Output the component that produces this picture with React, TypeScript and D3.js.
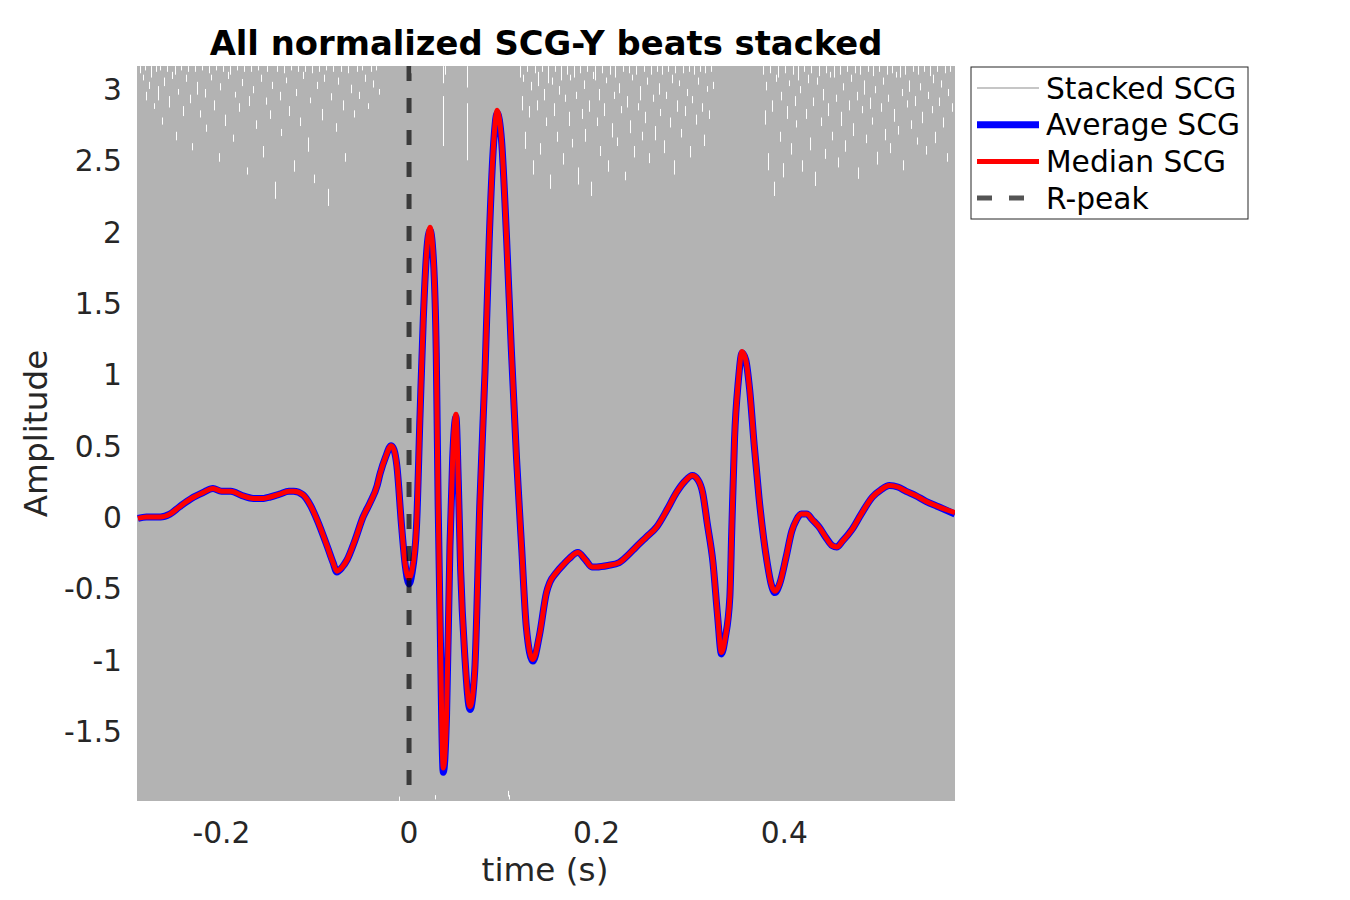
import React from "react";
import { scaleLinear, line, area, curveMonotoneX, curveLinear } from "d3";

// time axis (s) shared by the average and median beats
const beatTime = [
  -0.289, -0.28, -0.265, -0.255, -0.245, -0.232, -0.22, -0.209, -0.2, -0.19,
  -0.178, -0.166, -0.155, -0.148, -0.138, -0.128, -0.123, -0.113, -0.105, -0.098,
  -0.087, -0.081, -0.077, -0.071, -0.066, -0.058, -0.049, -0.0415, -0.034, -0.031,
  -0.025, -0.019, -0.016, -0.013, -0.008, -0.004, 0.0, 0.003, 0.008, 0.0117,
  0.0152, 0.0188, 0.0223, 0.026, 0.029, 0.031, 0.033, 0.0365, 0.04, 0.0436,
  0.0465, 0.05, 0.0525, 0.055, 0.0596, 0.065, 0.07, 0.0755, 0.081, 0.0855,
  0.0897, 0.094, 0.0986, 0.104, 0.109, 0.1146, 0.12, 0.125, 0.132, 0.139,
  0.1465, 0.15, 0.157, 0.165, 0.171, 0.18, 0.188, 0.195, 0.2, 0.212,
  0.224, 0.233, 0.242, 0.253, 0.264, 0.275, 0.285, 0.294, 0.302, 0.308,
  0.313, 0.318, 0.324, 0.329, 0.333, 0.337, 0.342, 0.344, 0.347, 0.351,
  0.355, 0.359, 0.363, 0.368, 0.373, 0.382, 0.386, 0.39, 0.395, 0.402,
  0.408, 0.413, 0.418, 0.424, 0.43, 0.437, 0.445, 0.451, 0.456, 0.462,
  0.472, 0.482, 0.494, 0.503, 0.512, 0.521, 0.53, 0.54, 0.551, 0.565,
  0.582,
];

const averageSCG = [
  -0.01, 0.0, 0.0, 0.02, 0.07, 0.13, 0.17, 0.2, 0.18, 0.18,
  0.15, 0.13, 0.13, 0.14, 0.16, 0.18, 0.18, 0.155, 0.08, -0.02,
  -0.21, -0.32, -0.385, -0.35, -0.3, -0.17, 0.0, 0.1, 0.22, 0.3,
  0.42, 0.5, 0.47, 0.36, -0.06, -0.34, -0.47, -0.4, -0.06, 0.71,
  1.39, 1.86, 2.01, 1.8, 1.15, 0.1, -0.68, -1.79, -1.39, -0.21,
  0.41, 0.7, 0.25, -0.37, -0.99, -1.35, -1.08, 0.1, 1.02, 1.95,
  2.57, 2.83, 2.64, 1.95, 1.18, 0.41, -0.21, -0.77, -1.01, -0.83,
  -0.53, -0.46, -0.39, -0.33, -0.29, -0.25, -0.3, -0.35, -0.35, -0.34,
  -0.32, -0.27, -0.21, -0.14, -0.07, 0.05, 0.17, 0.25, 0.29, 0.26,
  0.17, -0.05, -0.32, -0.7, -0.96, -0.85, -0.56, -0.1, 0.55, 0.95,
  1.15, 1.1, 0.9, 0.5, 0.14, -0.33, -0.47, -0.53, -0.47, -0.28,
  -0.1, -0.02, 0.02, 0.02, -0.02, -0.07, -0.15, -0.2, -0.21, -0.17,
  -0.09, 0.02, 0.14, 0.19, 0.22, 0.21, 0.18, 0.15, 0.11, 0.07,
  0.02,
];

const medianSCG = [
  -0.01, 0.0, 0.0, 0.02, 0.07, 0.13, 0.17, 0.2, 0.18, 0.18,
  0.15, 0.13, 0.13, 0.14, 0.16, 0.18, 0.18, 0.155, 0.08, -0.02,
  -0.21, -0.32, -0.38, -0.35, -0.3, -0.17, 0.0, 0.1, 0.22, 0.3,
  0.42, 0.5, 0.47, 0.36, -0.06, -0.34, -0.43, -0.38, -0.06, 0.71,
  1.39, 1.86, 2.03, 1.8, 1.15, 0.1, -0.68, -1.76, -1.39, -0.21,
  0.41, 0.72, 0.25, -0.37, -0.99, -1.33, -1.08, 0.1, 1.02, 1.95,
  2.57, 2.85, 2.64, 1.95, 1.18, 0.41, -0.21, -0.77, -1.0, -0.83,
  -0.53, -0.46, -0.39, -0.33, -0.29, -0.25, -0.3, -0.35, -0.35, -0.34,
  -0.32, -0.27, -0.21, -0.14, -0.07, 0.05, 0.17, 0.25, 0.29, 0.26,
  0.17, -0.05, -0.32, -0.7, -0.95, -0.85, -0.56, -0.1, 0.55, 0.95,
  1.16, 1.1, 0.9, 0.5, 0.14, -0.33, -0.47, -0.52, -0.47, -0.28,
  -0.1, -0.02, 0.02, 0.02, -0.02, -0.07, -0.15, -0.2, -0.21, -0.17,
  -0.09, 0.02, 0.14, 0.19, 0.22, 0.21, 0.18, 0.15, 0.11, 0.07,
  0.03,
];

// envelope of all stacked beats (reaches past the axes everywhere)
const stackTime = [-0.29, -0.1, 0, 0.05, 0.1, 0.2, 0.3, 0.4, 0.582];
const stackMax = [3.9, 3.7, 4.1, 4.8, 5.6, 4.2, 3.8, 4.4, 3.6];
const stackMin = [-2.6, -2.8, -3.5, -4.6, -3.9, -2.9, -3.3, -2.7, -2.5];

// gaps between the stacked traces: [time ms, top, length]
const stackGaps: [number, number, number][] = [
  [-287, 3.16, 0.05], [-284, 3.1, 0.04], [-281, 3.16, 0.03], [-280, 2.98, 0.06], [-277, 3.05, 0.05],
  [-275, 3.16, 0.08], [-272, 2.9, 0.04], [-270, 3.16, 0.04], [-268, 3.02, 0.1], [-265, 3.16, 0.03],
  [-263, 2.8, 0.05], [-261, 3.08, 0.06], [-258, 3.16, 0.04], [-256, 2.95, 0.08], [-253, 3.12, 0.05],
  [-250, 3.16, 0.06], [-248, 2.7, 0.06], [-246, 3.0, 0.04], [-243, 3.16, 0.03], [-241, 2.88, 0.07],
  [-238, 3.1, 0.05], [-236, 3.16, 0.04], [-233, 2.96, 0.06], [-231, 2.62, 0.05], [-228, 3.16, 0.04],
  [-226, 3.05, 0.09], [-223, 2.85, 0.05], [-221, 3.16, 0.03], [-218, 3.0, 0.06], [-216, 2.75, 0.05],
  [-213, 3.16, 0.05], [-211, 3.1, 0.04], [-208, 2.92, 0.07], [-206, 3.16, 0.03], [-203, 2.55, 0.06],
  [-201, 3.04, 0.05], [-198, 3.16, 0.04], [-196, 2.82, 0.08], [-193, 3.12, 0.05], [-191, 3.16, 0.06],
  [-188, 2.68, 0.05], [-186, 2.98, 0.04], [-183, 3.16, 0.03], [-181, 2.9, 0.06], [-178, 3.07, 0.05],
  [-176, 3.16, 0.04], [-173, 2.45, 0.05], [-171, 2.95, 0.07], [-168, 3.16, 0.04], [-166, 3.02, 0.05],
  [-163, 2.78, 0.06], [-161, 3.16, 0.03], [-158, 3.1, 0.05], [-156, 2.6, 0.08], [-153, 2.94, 0.05],
  [-151, 3.16, 0.04], [-148, 2.85, 0.06], [-146, 3.05, 0.05], [-143, 2.35, 0.12], [-141, 3.16, 0.04],
  [-138, 2.98, 0.06], [-136, 2.72, 0.05], [-133, 3.16, 0.05], [-131, 3.08, 0.04], [-128, 2.88, 0.07],
  [-126, 3.16, 0.03], [-123, 2.5, 0.08], [-121, 3.0, 0.05], [-118, 3.16, 0.04], [-116, 2.8, 0.06],
  [-113, 3.12, 0.05], [-111, 3.16, 0.04], [-108, 2.66, 0.1], [-106, 2.94, 0.04], [-103, 3.16, 0.05],
  [-101, 2.4, 0.06], [-98, 3.05, 0.05], [-96, 3.16, 0.04], [-93, 2.86, 0.08], [-91, 3.1, 0.05],
  [-88, 3.16, 0.03], [-86, 2.3, 0.12], [-83, 2.97, 0.05], [-81, 3.16, 0.04], [-78, 2.76, 0.06],
  [-76, 3.08, 0.05], [-73, 3.16, 0.04], [-70, 2.92, 0.07], [-68, 2.55, 0.06], [-65, 3.16, 0.05],
  [-62, 3.03, 0.06], [-59, 2.85, 0.05], [-56, 3.16, 0.04], [-53, 2.98, 0.05], [-50, 3.16, 0.03],
  [-47, 3.1, 0.05], [-44, 2.9, 0.04], [-41, 3.16, 0.04], [-38, 3.06, 0.05], [-35, 3.16, 0.03],
  [-32, 3.0, 0.04],
  [2, 3.16, 0.05], [36, 3.16, 0.12], [36, 2.95, 0.35], [38, 3.16, 0.06], [62, 3.16, 0.15], [62, 2.9, 0.4],
  [118, 3.16, 0.08], [120, 2.95, 0.1], [122, 3.1, 0.05], [124, 2.7, 0.12], [126, 3.16, 0.04],
  [128, 2.88, 0.08], [130, 3.05, 0.06], [132, 2.5, 0.1], [134, 3.16, 0.05], [136, 2.92, 0.07],
  [138, 3.12, 0.1], [140, 2.62, 0.08], [142, 3.16, 0.04], [144, 3.0, 0.08], [146, 2.8, 0.06],
  [148, 3.16, 0.12], [150, 2.4, 0.1], [152, 3.08, 0.05], [154, 2.9, 0.09], [156, 3.16, 0.04],
  [158, 2.7, 0.07], [160, 3.02, 0.06], [162, 3.16, 0.1], [164, 2.55, 0.08], [166, 2.96, 0.05],
  [168, 3.16, 0.06], [170, 2.84, 0.1], [172, 3.1, 0.04], [174, 2.65, 0.06], [176, 3.16, 0.08],
  [178, 2.98, 0.05], [180, 2.45, 0.12], [182, 3.16, 0.05], [184, 2.86, 0.07], [186, 3.06, 0.06],
  [188, 2.72, 0.09], [190, 3.16, 0.04], [192, 2.92, 0.08], [194, 2.35, 0.1], [196, 3.12, 0.05],
  [198, 3.16, 0.1], [200, 2.8, 0.06], [202, 3.0, 0.08], [204, 2.6, 0.07], [206, 3.16, 0.05],
  [208, 2.9, 0.09], [210, 3.08, 0.04], [212, 2.5, 0.08], [214, 3.16, 0.06], [216, 2.76, 0.1],
  [218, 2.98, 0.05], [220, 3.16, 0.08], [222, 2.66, 0.06], [224, 3.04, 0.07], [226, 2.88, 0.05],
  [228, 3.16, 0.04], [230, 2.42, 0.06], [232, 2.95, 0.08], [234, 3.16, 0.05], [236, 2.78, 0.09],
  [238, 3.1, 0.04], [240, 2.6, 0.08], [242, 3.16, 0.06], [244, 2.9, 0.05], [246, 3.02, 0.1],
  [248, 2.7, 0.06], [250, 3.16, 0.04], [252, 2.84, 0.08], [254, 3.08, 0.05], [256, 2.55, 0.07],
  [258, 3.16, 0.06], [260, 2.96, 0.05], [262, 2.74, 0.1], [264, 3.16, 0.04], [266, 3.04, 0.08],
  [268, 2.86, 0.05], [270, 3.16, 0.06], [272, 2.64, 0.09], [274, 2.98, 0.05], [276, 3.16, 0.04],
  [278, 2.8, 0.07], [280, 3.1, 0.06], [282, 2.5, 0.1], [284, 3.16, 0.05], [286, 2.92, 0.08],
  [288, 3.06, 0.04], [290, 2.72, 0.06], [292, 3.16, 0.05], [294, 2.88, 0.07], [296, 3.0, 0.05],
  [298, 3.16, 0.04], [300, 2.6, 0.08], [302, 2.95, 0.05], [304, 3.16, 0.06], [306, 2.82, 0.07],
  [308, 3.08, 0.05], [310, 3.16, 0.04], [312, 2.9, 0.06], [314, 2.68, 0.08], [316, 3.16, 0.05],
  [318, 3.02, 0.04], [320, 2.85, 0.06], [322, 3.16, 0.04], [324, 3.05, 0.05],
  [377, 3.16, 0.06], [379, 2.85, 0.1], [381, 3.05, 0.06], [383, 2.55, 0.12], [385, 3.16, 0.05],
  [387, 2.92, 0.08], [389, 2.35, 0.1], [391, 3.1, 0.05], [393, 3.16, 0.08], [395, 2.7, 0.07],
  [397, 2.98, 0.06], [399, 2.48, 0.1], [401, 3.16, 0.05], [403, 2.88, 0.09], [405, 3.06, 0.04],
  [407, 2.62, 0.08], [409, 3.16, 0.06], [411, 2.95, 0.07], [413, 2.78, 0.05], [415, 3.16, 0.1],
  [417, 3.02, 0.05], [419, 2.5, 0.08], [421, 3.16, 0.04], [423, 2.86, 0.07], [425, 3.1, 0.06],
  [427, 2.66, 0.09], [429, 3.16, 0.05], [431, 2.94, 0.06], [433, 2.42, 0.1], [435, 3.08, 0.05],
  [437, 3.16, 0.07], [439, 2.8, 0.06], [441, 3.0, 0.08], [443, 2.58, 0.07], [445, 3.16, 0.05],
  [447, 2.9, 0.09], [449, 3.12, 0.04], [451, 2.7, 0.06], [453, 3.16, 0.08], [455, 2.96, 0.05],
  [457, 2.52, 0.07], [459, 3.16, 0.06], [461, 2.84, 0.1], [463, 3.04, 0.05], [465, 2.64, 0.08],
  [467, 3.16, 0.04], [469, 2.92, 0.07], [471, 3.1, 0.05], [473, 2.76, 0.09], [475, 3.16, 0.05],
  [477, 2.98, 0.06], [479, 2.45, 0.08], [481, 3.16, 0.06], [483, 2.88, 0.05], [485, 3.06, 0.1],
  [487, 2.68, 0.06], [489, 3.16, 0.04], [491, 2.94, 0.08], [493, 2.8, 0.05], [495, 3.16, 0.07],
  [497, 3.02, 0.05], [499, 2.56, 0.09], [501, 3.16, 0.04], [503, 2.9, 0.06], [505, 3.08, 0.05],
  [507, 2.72, 0.08], [509, 3.16, 0.06], [511, 2.96, 0.05], [513, 2.62, 0.07], [515, 3.16, 0.05],
  [517, 2.86, 0.09], [519, 3.12, 0.04], [521, 2.74, 0.06], [523, 3.16, 0.08], [525, 3.0, 0.05],
  [527, 2.5, 0.07], [529, 3.16, 0.06], [531, 2.92, 0.05], [533, 3.06, 0.08], [535, 2.78, 0.06],
  [537, 3.16, 0.04], [539, 2.95, 0.07], [541, 2.66, 0.05], [543, 3.16, 0.06], [545, 3.04, 0.05],
  [547, 2.84, 0.08], [549, 3.16, 0.04], [551, 2.6, 0.06], [553, 2.98, 0.05], [555, 3.16, 0.07],
  [557, 2.88, 0.05], [559, 3.1, 0.06], [561, 2.7, 0.08], [563, 3.16, 0.04], [565, 2.94, 0.06],
  [567, 3.06, 0.05], [569, 2.8, 0.07], [571, 3.16, 0.05], [573, 2.55, 0.06], [575, 3.0, 0.05],
  [577, 3.16, 0.04], [579, 2.9, 0.06],
  [-11, -1.96, 0.03], [28, -1.95, 0.03], [105, -1.92, 0.04], [107, -1.95, 0.03],
];

const xTicks = [-0.2, 0, 0.2, 0.4];
const yTicks = [-1.5, -1, -0.5, 0, 0.5, 1, 1.5, 2, 2.5, 3];
const legendItems = ["Stacked SCG", "Average SCG", "Median SCG", "R-peak"];

const W = 1350;
const H = 900;
const box = { left: 137, right: 955, top: 66, bottom: 801 };
const font = "'DejaVu Sans', sans-serif";
const tickColor = "#262626";

export default function App() {
  const x = scaleLinear().domain([-0.29, 0.582]).range([box.left, box.right]);
  const y = scaleLinear().domain([-1.991, 3.161]).range([box.bottom, box.top]);

  const beatLine = line<number>()
    .x((_, i) => x(beatTime[i]))
    .y((d) => y(d))
    .curve(curveMonotoneX);

  const stackArea = area<number>()
    .x((d) => x(d))
    .y0((_, i) => y(stackMin[i]))
    .y1((_, i) => y(stackMax[i]))
    .curve(curveLinear);

  const fmt = (v: number) => String(v);

  return (
    <svg
      width={W}
      height={H}
      style={{ position: "absolute", left: 0, top: 0, background: "#fff" }}
      fontFamily={font}
    >
      <defs>
        <clipPath id="plotClip">
          <rect
            x={box.left}
            y={box.top}
            width={box.right - box.left}
            height={box.bottom - box.top}
          />
        </clipPath>
      </defs>

      {/* ticks, under the data like MATLAB's default layer */}
      <g stroke={tickColor} strokeWidth={1}>
        {xTicks.map((t) => (
          <g key={"xt" + t}>
            <line x1={x(t)} x2={x(t)} y1={box.bottom} y2={box.bottom - 8} />
            <line x1={x(t)} x2={x(t)} y1={box.top} y2={box.top + 8} />
          </g>
        ))}
        {yTicks.map((t) => (
          <g key={"yt" + t}>
            <line x1={box.left} x2={box.left + 8} y1={y(t)} y2={y(t)} />
            <line x1={box.right} x2={box.right - 8} y1={y(t)} y2={y(t)} />
          </g>
        ))}
      </g>

      <g clipPath="url(#plotClip)">
        <path d={stackArea(stackTime) ?? ""} fill="#b3b3b3" />
        <g stroke="#ffffff" strokeWidth={1}>
          {stackGaps.map(([ms, top, len], i) => (
            <line
              key={"g" + i}
              x1={Math.round(x(ms / 1000)) + 0.5}
              x2={Math.round(x(ms / 1000)) + 0.5}
              y1={y(top)}
              y2={y(top - len)}
            />
          ))}
        </g>
        <path
          d={beatLine(averageSCG) ?? ""}
          fill="none"
          stroke="#0000ff"
          strokeWidth={7}
          strokeLinejoin="round"
        />
        <path
          d={beatLine(medianSCG) ?? ""}
          fill="none"
          stroke="#ff0000"
          strokeWidth={5}
          strokeLinejoin="round"
        />
        <line
          x1={x(0)}
          x2={x(0)}
          y1={box.top}
          y2={box.bottom}
          stroke="#000"
          strokeOpacity={0.67}
          strokeWidth={5}
          strokeDasharray="15 17"
        />
      </g>

      {/* tick labels */}
      <g fill={tickColor} fontSize={29.7}>
        {xTicks.map((t) => (
          <text key={"xl" + t} x={x(t)} y={843} textAnchor="middle">
            {fmt(t)}
          </text>
        ))}
        {yTicks.map((t) => (
          <text key={"yl" + t} x={122} y={y(t) + 11} textAnchor="end">
            {fmt(t)}
          </text>
        ))}
      </g>

      <text x={545} y={881} textAnchor="middle" fontSize={32.7} fill={tickColor}>
        time (s)
      </text>
      <text
        transform={`translate(47, ${(box.top + box.bottom) / 2}) rotate(-90)`}
        textAnchor="middle"
        fontSize={32.7}
        fill={tickColor}
      >
        Amplitude
      </text>
      <text
        x={(box.left + box.right) / 2}
        y={55}
        textAnchor="middle"
        fontSize={33.8}
        fontWeight="bold"
        fill="#000"
      >
        All normalized SCG-Y beats stacked
      </text>

      {/* legend */}
      <g>
        <rect x={971} y={67} width={277} height={152} fill="#fff" stroke="#262626" strokeWidth={1} />
        {legendItems.map((label, i) => {
          const cy = 88 + i * 36.7;
          return (
            <g key={label}>
              {i === 0 && <line x1={977} x2={1039} y1={cy} y2={cy} stroke="#b3b3b3" strokeWidth={1.5} />}
              {i === 1 && <line x1={977} x2={1039} y1={cy} y2={cy} stroke="#0000ff" strokeWidth={7} />}
              {i === 2 && <line x1={977} x2={1039} y1={cy} y2={cy} stroke="#ff0000" strokeWidth={5} />}
              {i === 3 && (
                <line
                  x1={977}
                  x2={1039}
                  y1={cy}
                  y2={cy}
                  stroke="#000"
                  strokeOpacity={0.67}
                  strokeWidth={5}
                  strokeDasharray="15 17"
                />
              )}
              <text x={1046} y={cy + 10.5} fontSize={29.7} fill="#000">
                {label}
              </text>
            </g>
          );
        })}
      </g>
    </svg>
  );
}
